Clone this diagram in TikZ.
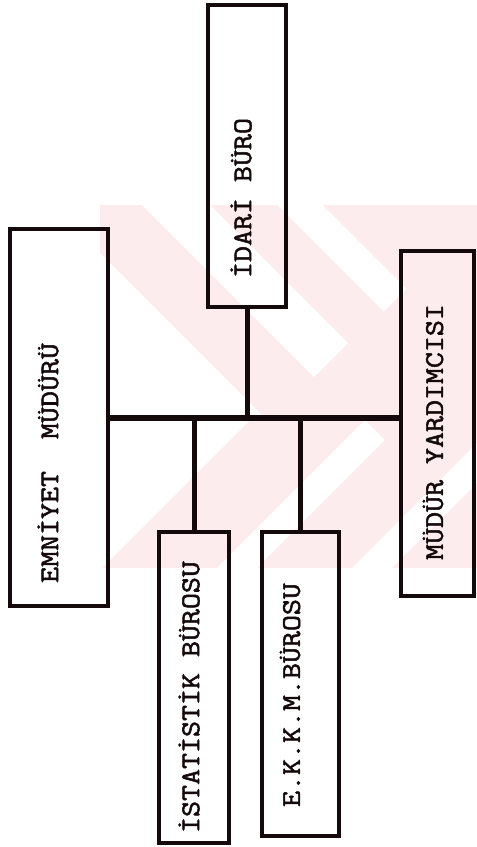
\documentclass[tikz,border=0pt]{standalone}
\usepackage{fontspec}
\newfontfamily\typew[FakeStretch=1.15,FakeBold=2]{Latin Modern Mono}
\definecolor{ink}{RGB}{20,10,12}
\definecolor{wm}{RGB}{253,236,238}
\begin{document}
\begin{tikzpicture}[x=1pt,y=-1pt,
  box/.style={draw=ink,line width=3.6pt,inner sep=0pt,rectangle},
  lbl/.style={font=\fontsize{27}{27}\selectfont\typew,rotate=90,inner sep=0pt,text=ink},
  conn/.style={draw=ink,line width=5pt},
  bar/.style={draw=ink,line width=6pt},
  wmstripe/.style={draw=white}]
\useasboundingbox (0,0) rectangle (477,847);
\fill[white] (0,0) rectangle (477,847);
% watermark
\begin{scope}
  \clip (100,205) rectangle (477,568);
  \fill[wm] (100,205) rectangle (477,568);
  \begin{scope}
    \clip (100,205) rectangle (477,418);
    \fill[white] (100,253) -- (265,418) -- (100,418) -- cycle;
    \draw[wmstripe,line width=48pt] (150,179) -- (331,360);
    \draw[wmstripe,line width=32pt] (280,185) -- (395,300);
  \end{scope}
  \begin{scope}
    \clip (100,418) rectangle (477,568);
    \fill[white] (100,418) -- (252,418) -- (102,568) -- (100,568) -- cycle;
    \draw[wmstripe,line width=28pt] (227,578) -- (375,430);
    \draw[wmstripe,line width=28pt] (357,583) -- (500,440);
  \end{scope}
\end{scope}
% boxes
\node[box,minimum width=98pt,minimum height=377pt] (emn) at (59,417.5) {};
\node[box,minimum width=78pt,minimum height=302pt] (idari) at (247,156) {};
\node[box,minimum width=73pt,minimum height=345pt] (myard) at (437.5,423.5) {};
\node[box,minimum width=70pt,minimum height=311pt] (ist) at (194,687.5) {};
\node[box,minimum width=77pt,minimum height=304pt] (ekkm) at (300.5,684) {};
% labels
\node[lbl] (temn) at (48,463) {EMNİYET~~MÜDÜRÜ};
\node[lbl] (tidari) at (241,198) {İDARİ BÜRO};
\node[lbl] (tmyard) at (433,432) {MÜDÜR YARDIMCISI};
\node[lbl] (tist) at (189,697) {İSTATİSTİK BÜROSU};
\node[lbl] (tekkm) at (290,695) {E.K.K.M.BÜROSU};
% connectors
\draw[bar] (emn.east) -- (emn.east -| myard.west);
\draw[conn] (idari.south) -- (idari.south |- emn.east);
\draw[conn] (ist.north) -- (ist.north |- emn.east);
\draw[conn] (ekkm.north) -- (ekkm.north |- emn.east);
\end{tikzpicture}
\end{document}
